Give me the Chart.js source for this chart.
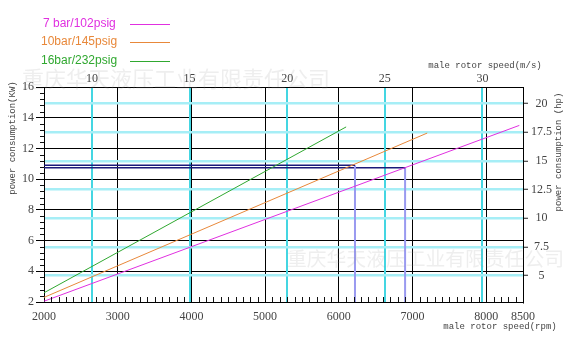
<!DOCTYPE html>
<html>
<head>
<meta charset="utf-8">
<script src="https://cdn.jsdelivr.net/npm/chart.js@4/dist/chart.umd.min.js"></script>
<style>
  html, body { margin: 0; padding: 0; background: #fff; }
  #wrap { width: 586px; height: 352px; }
</style>
</head>
<body>
<div id="wrap"><canvas id="chart" width="586" height="352"></canvas></div>
<script>
// --- DATA ---
const rpmTicks = [2000, 3000, 4000, 5000, 6000, 7000, 8000, 8500];
const kwTicks = [2, 4, 6, 8, 10, 12, 14, 16];
const speedTicks = [10, 15, 20, 25, 30];
const hpTicks = [5, 7.5, 10, 12.5, 15, 17.5, 20];

const seriesNames = ['7 bar/102psig', '10bar/145psig', '16bar/232psig'];
const seriesColors = ['#e030e0', '#e8883a', '#30a830'];
const seriesRpm = [[2000, 8450], [2000, 7200], [2000, 6100]];
const seriesKw = [[2.05, 13.5], [2.3, 13.0], [2.6, 13.4]];

// read-off markers: rated power -> max speed
const markRpm = [6220, 6900];
const markKw = [10.9, 10.75];

const RPM_PER_MS = 265;     // male rotor rpm per m/s tip speed
const KW_PER_HP = 0.7457;

const watermark = '重庆华天液压工业有限责任公司';

// --- DATASETS ---
const datasets = seriesNames.map((name, i) => ({
    label: name,
    data: seriesRpm[i].map((x, j) => ({ x: x, y: seriesKw[i][j] })),
    borderColor: seriesColors[i],
    borderWidth: 1,
    pointRadius: 0,
    xAxisID: 'x',
    yAxisID: 'y'
}));

markRpm.forEach((r, i) => {
    datasets.push({
        label: 'h' + i,
        data: [{ x: 2000, y: markKw[i] }, { x: r, y: markKw[i] }],
        borderColor: '#1a1a7a',
        borderWidth: 1.5,
        pointRadius: 0,
        xAxisID: 'x',
        yAxisID: 'y'
    });
    datasets.push({
        label: 'v' + i,
        data: [{ x: r, y: markKw[i] }, { x: r, y: 2 }],
        borderColor: '#9a9af0',
        borderWidth: 2,
        pointRadius: 0,
        xAxisID: 'x',
        yAxisID: 'y'
    });
});

// --- PLUGIN: minor ticks, titles, legend, watermark ---
const extras = {
    id: 'extras',
    afterDraw(chart) {
        const { ctx, chartArea: a, scales } = chart;
        const xs = scales.x, ys = scales.y;
        ctx.save();
        ctx.strokeStyle = '#111';
        ctx.lineWidth = 1;
        ctx.beginPath();
        for (let v = 2100; v < 8500; v += 100) {
            if (v % 1000 === 0) continue;
            const px = Math.round(xs.getPixelForValue(v)) + 0.5;
            ctx.moveTo(px, a.bottom);
            ctx.lineTo(px, a.bottom - 5);
        }
        for (let i = 1; i < 35; i++) {
            if (i % 5 === 0) continue;
            const py = Math.round(ys.getPixelForValue(2 + i * 0.4)) + 0.5;
            ctx.moveTo(a.left - 4, py);
            ctx.lineTo(a.left, py);
        }
        ctx.stroke();

        // axis titles
        ctx.fillStyle = '#444';
        ctx.font = '9px "Liberation Mono"';
        ctx.textBaseline = 'middle';
        ctx.textAlign = 'center';
        ctx.fillText('male rotor speed(m/s)', 485, 66);
        ctx.fillText('male rotor speed(rpm)', 500, 327);
        ctx.save();
        ctx.translate(13, 138);
        ctx.rotate(-Math.PI / 2);
        ctx.fillText('power consumption(KW)', 0, 0);
        ctx.restore();
        ctx.save();
        ctx.translate(559, 152);
        ctx.rotate(-Math.PI / 2);
        ctx.fillText('power consumption (hp)', 0, 0);
        ctx.restore();

        // legend
        ctx.font = '12px "Liberation Sans"';
        ctx.textAlign = 'left';
        const ly = [24, 42, 61];
        seriesNames.forEach((name, i) => {
            ctx.fillStyle = seriesColors[i];
            ctx.fillText(name, i === 0 ? 43 : 41, ly[i]);
            ctx.strokeStyle = seriesColors[i];
            ctx.beginPath();
            ctx.moveTo(130, ly[i] + 0.5);
            ctx.lineTo(170, ly[i] + 0.5);
            ctx.stroke();
        });

        // watermark
        ctx.fillStyle = 'rgba(150,150,150,0.16)';
        ctx.font = '22px "Noto Sans CJK SC"';
        ctx.fillText(watermark, 22, 79);
        ctx.font = '19.8px "Noto Sans CJK SC"';
        ctx.fillText(watermark, 287, 258);
        ctx.restore();
    }
};

// --- CHART ---
const tickFont = { family: 'Liberation Serif', size: 12 };
const plain = v => String(v);

new Chart(document.getElementById('chart'), {
    type: 'line',
    data: { datasets: datasets },
    options: {
        responsive: false,
        animation: false,
        layout: { padding: 0 },
        plugins: { legend: { display: false }, tooltip: { enabled: false } },
        scales: {
            x: {
                type: 'linear',
                position: 'bottom',
                min: 2000, max: 8500,
                afterBuildTicks: s => { s.ticks = rpmTicks.map(v => ({ value: v })); },
                afterFit: s => { s.height = 50; },
                ticks: { font: tickFont, color: '#444', padding: 8, maxRotation: 0, callback: plain },
                grid: { color: '#000', lineWidth: 1, drawTicks: false },
                border: { color: '#000', width: 1 }
            },
            y: {
                type: 'linear',
                position: 'left',
                min: 2, max: 16,
                afterBuildTicks: s => { s.ticks = kwTicks.map(v => ({ value: v })); },
                afterFit: s => { s.width = 44; },
                ticks: { font: tickFont, color: '#444', padding: 2, callback: plain },
                grid: { color: '#000', lineWidth: 1, tickLength: 8 },
                border: { color: '#000', width: 1 }
            },
            x2: {
                type: 'linear',
                position: 'top',
                min: 2000 / RPM_PER_MS, max: 8500 / RPM_PER_MS,
                afterBuildTicks: s => { s.ticks = speedTicks.map(v => ({ value: v })); },
                afterFit: s => { s.height = 87; },
                ticks: { font: tickFont, color: '#444', padding: 1, maxRotation: 0, callback: plain },
                grid: { color: '#44d6e2', lineWidth: 2, drawTicks: false },
                border: { color: '#000', width: 1 }
            },
            y2: {
                type: 'linear',
                position: 'right',
                min: 2 / KW_PER_HP, max: 16 / KW_PER_HP,
                afterBuildTicks: s => { s.ticks = hpTicks.map(v => ({ value: v })); },
                afterFit: s => { s.width = 63; },
                ticks: { font: tickFont, color: '#444', padding: 3, crossAlign: 'center', callback: plain },
                grid: { color: '#a6eef6', lineWidth: 2.5, tickLength: 5, tickColor: '#222', tickWidth: 1 },
                border: { color: '#000', width: 1 }
            }
        }
    },
    plugins: [extras]
});
</script>
</body>
</html>
